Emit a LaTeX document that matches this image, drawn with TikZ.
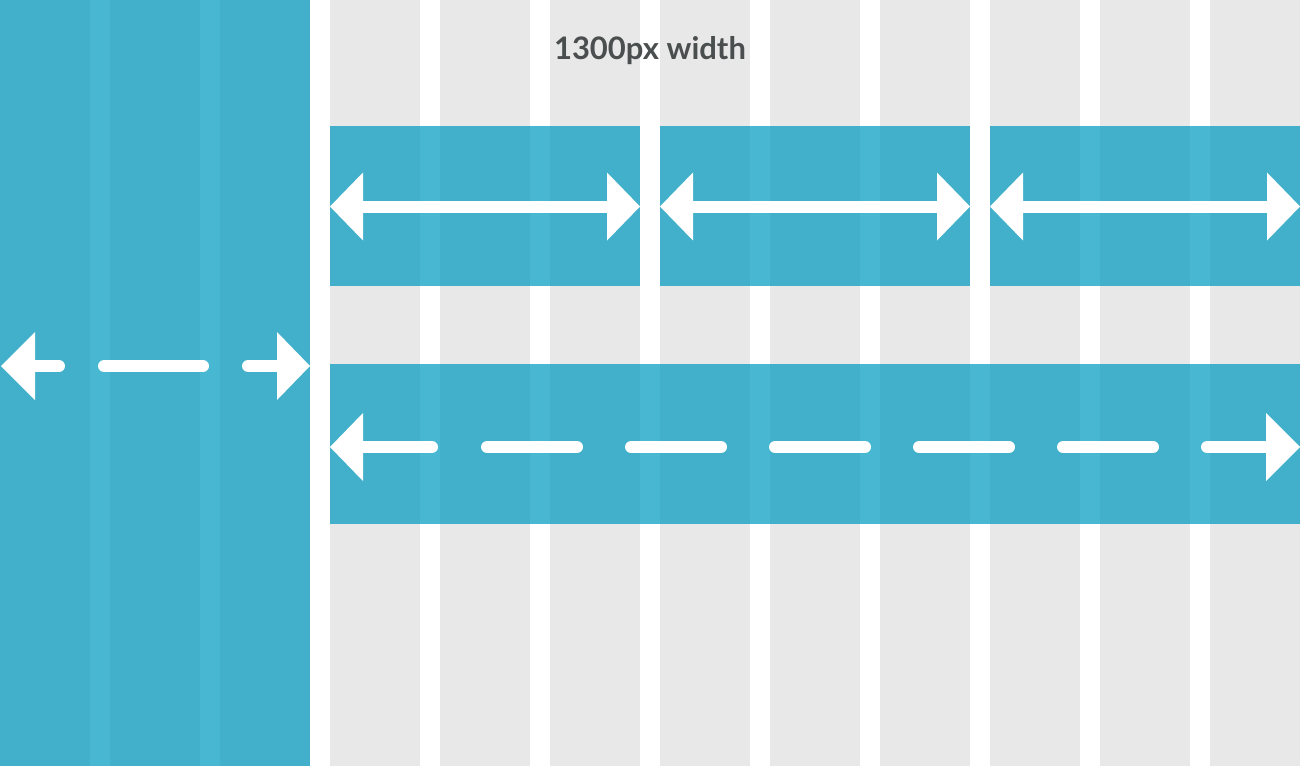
\documentclass[tikz,border=0pt]{standalone}
\usepackage{fontspec}
\setmainfont{Lato}
\definecolor{gridgray}{HTML}{E8E8E8}
\definecolor{panelblue}{HTML}{42B0CB}
\definecolor{stripeblue}{HTML}{48B7D2}
\definecolor{txtgray}{HTML}{4A4E4E}
\tikzset{
  gridcol/.style={fill=gridgray, draw=none},
  bluebox/.style={fill=panelblue, draw=none},
  stripe/.style={fill=stripeblue, draw=none},
  shaft/.style={draw=white, line width=12pt, line cap=butt},
  dashseg/.style={draw=white, line width=12pt, line cap=round},
  headL/.style={fill=white, draw=none},
}
\begin{document}
\begin{tikzpicture}[x=1pt,y=-1pt]
\useasboundingbox (0,0) rectangle (1300,766);
\fill[white] (0,0) rectangle (1300,766);
% grid columns
\foreach \i in {0,...,11}{
  \fill[gridcol] ({\i*110},0) rectangle ({\i*110+90},766);
}
% left panel
\fill[bluebox] (0,0) rectangle (310,766);
\fill[stripe] (90,0) rectangle (110,766);
\fill[stripe] (200,0) rectangle (220,766);
% top row boxes
\foreach \a in {330,660,990}{
  \fill[bluebox] (\a,126) rectangle (\a+310,286);
  \fill[stripe] (\a+90,126) rectangle (\a+110,286);
  \fill[stripe] (\a+200,126) rectangle (\a+220,286);
}
% long box
\fill[bluebox] (330,364) rectangle (1300,524);
\foreach \g in {420,530,640,750,860,970,1080,1190}{
  \fill[stripe] (\g,364) rectangle (\g+20,524);
}
% top arrows
\foreach \a in {330,660,990}{
  \coordinate (tl) at (\a,206.5);
  \coordinate (tr) at (\a+310,206.5);
  \fill[headL] (tl) -- ++(33,-34) -- ++(0,68) -- cycle;
  \fill[headL] (tr) -- ++(-33,-34) -- ++(0,68) -- cycle;
  \draw[shaft] ([xshift=32]tl) -- ([xshift=-32]tr);
}
% left panel dashed arrow
\coordinate (pl) at (1,366);
\coordinate (pr) at (310,366);
\fill[headL] (pl) -- ++(34,-34) -- ++(0,68) -- cycle;
\fill[headL] (pr) -- ++(-33,-34) -- ++(0,68) -- cycle;
\draw[dashseg] (30,366) -- (59,366);
\draw[dashseg] (104,366) -- (203,366);
\draw[dashseg] (248,366) -- (282,366);
% long dashed arrow
\coordinate (ll) at (330,447);
\coordinate (lr) at (1300,447);
\fill[headL] (ll) -- ++(33,-34) -- ++(0,68) -- cycle;
\fill[headL] (lr) -- ++(-34,-34) -- ++(0,68) -- cycle;
\draw[dashseg] (358,447) -- (432,447);
\foreach \d in {487,631,775,919,1063}{
  \draw[dashseg] (\d,447) -- (\d+90,447);
}
\draw[dashseg] (1207,447) -- (1270,447);
% title
\node[text=txtgray, font=\fontsize{31}{33}\selectfont\bfseries, inner sep=0pt] (title) at (650,51) {1300px width};
\end{tikzpicture}
\end{document}
